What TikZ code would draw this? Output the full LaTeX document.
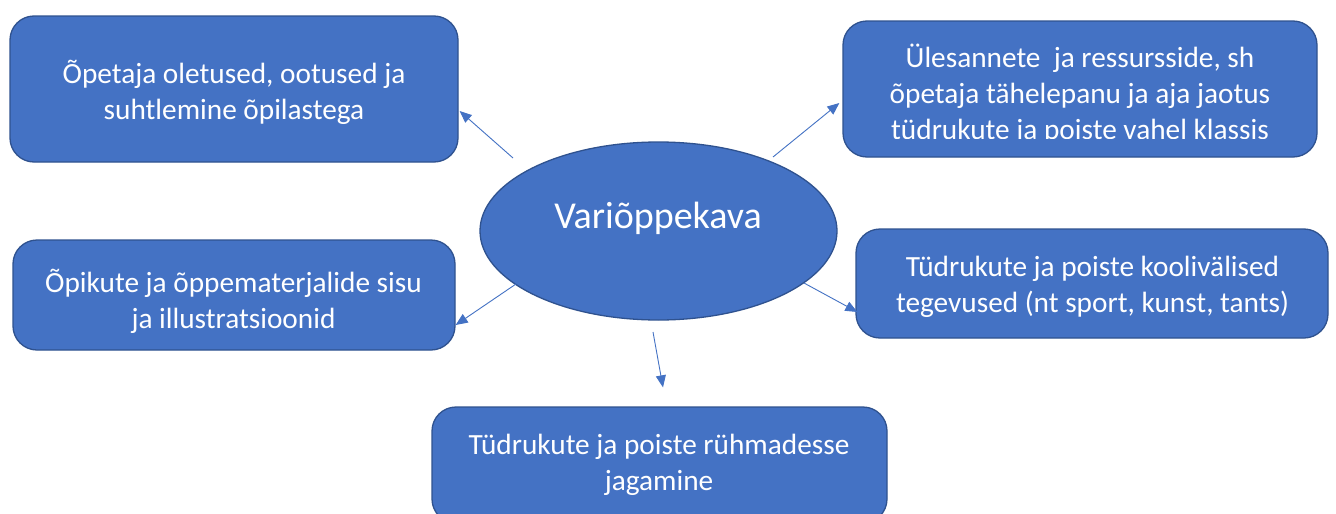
\documentclass[tikz,border=0pt]{standalone}
\usepackage{fontspec}
\setmainfont{Carlito}
\usetikzlibrary{arrows.meta,shapes.geometric}
\definecolor{accent}{HTML}{4472C4}
\definecolor{edge}{HTML}{2F528F}
\begin{document}
\begin{tikzpicture}[x=1pt,y=-1pt,
  box/.style={draw=edge, line width=1.3pt, fill=accent, rounded corners=24pt, inner sep=0pt},
  oval/.style={ellipse, draw=edge, line width=1.3pt, fill=accent, inner sep=0pt},
  lbl/.style={text=white, font=\fontsize{29.3}{36}\selectfont, align=center, inner sep=0pt},
  conn/.style={draw=accent, line width=0.9pt, -{Triangle[length=12pt,width=10pt]}}]
\useasboundingbox (0,0) rectangle (1336,514);
\clip (0,0) rectangle (1336,514);
\fill[white] (0,0) rectangle (1336,514);

% boxes
\node[box, minimum width=448pt, minimum height=146pt] (tl) at (234,89) {};
\node[box, minimum width=474pt, minimum height=136pt] (tr) at (1080,89) {};
\node[box, minimum width=442pt, minimum height=110pt] (ml) at (234,295) {};
\node[box, minimum width=472pt, minimum height=109pt] (mr) at (1092,283.5) {};
\node[box, minimum width=455pt, minimum height=116pt] (bt) at (659.5,465) {};
\node[oval, minimum width=357pt, minimum height=178pt] (c) at (658.5,231) {};

% labels
\node[lbl] (tlt) at (234,92) {Õpetaja oletused, ootused ja\\suhtlemine õpilastega};
\begin{scope}
  \clip (843,22) rectangle (1316,138);
  \node[lbl] (trt) at (1080,94) {Ülesannete\ \ ja ressursside, sh\\õpetaja tähelepanu ja aja jaotus\\tüdrukute ja poiste vahel klassis};
\end{scope}
\node[lbl] (mlt) at (233.5,301) {Õpikute ja õppematerjalide sisu\\ja illustratsioonid};
\node[lbl] (mrt) at (1092.5,287) {Tüdrukute ja poiste koolivälised\\tegevused (nt sport, kunst, tants)};
\node[lbl] (btt) at (659,465) {Tüdrukute ja poiste rühmadesse\\jagamine};
\node[text=white, font=\fontsize{38}{44}\selectfont, inner sep=0pt] (ct) at (658,218) {Variõppekava};

% connector tails
\coordinate (s1) at (513,158);
\coordinate (s2) at (773,157);
\coordinate (s3) at (516,284);
\coordinate (s4) at (804,283);
\coordinate (s5) at (653,332);

\draw[conn] (s1) -- ([xshift=1pt,yshift=-22pt]tl.east);
\draw[conn] (s2) -- ([xshift=-3pt,yshift=-14pt]tr.west);
\draw[conn] (s3) -- ([yshift=-30pt]ml.east);
\draw[conn] (s4) -- ([xshift=2pt,yshift=-28.5pt]mr.west);
\draw[conn] (s5) -- ([xshift=3.5pt,yshift=19pt]bt.north);
\end{tikzpicture}
\end{document}
